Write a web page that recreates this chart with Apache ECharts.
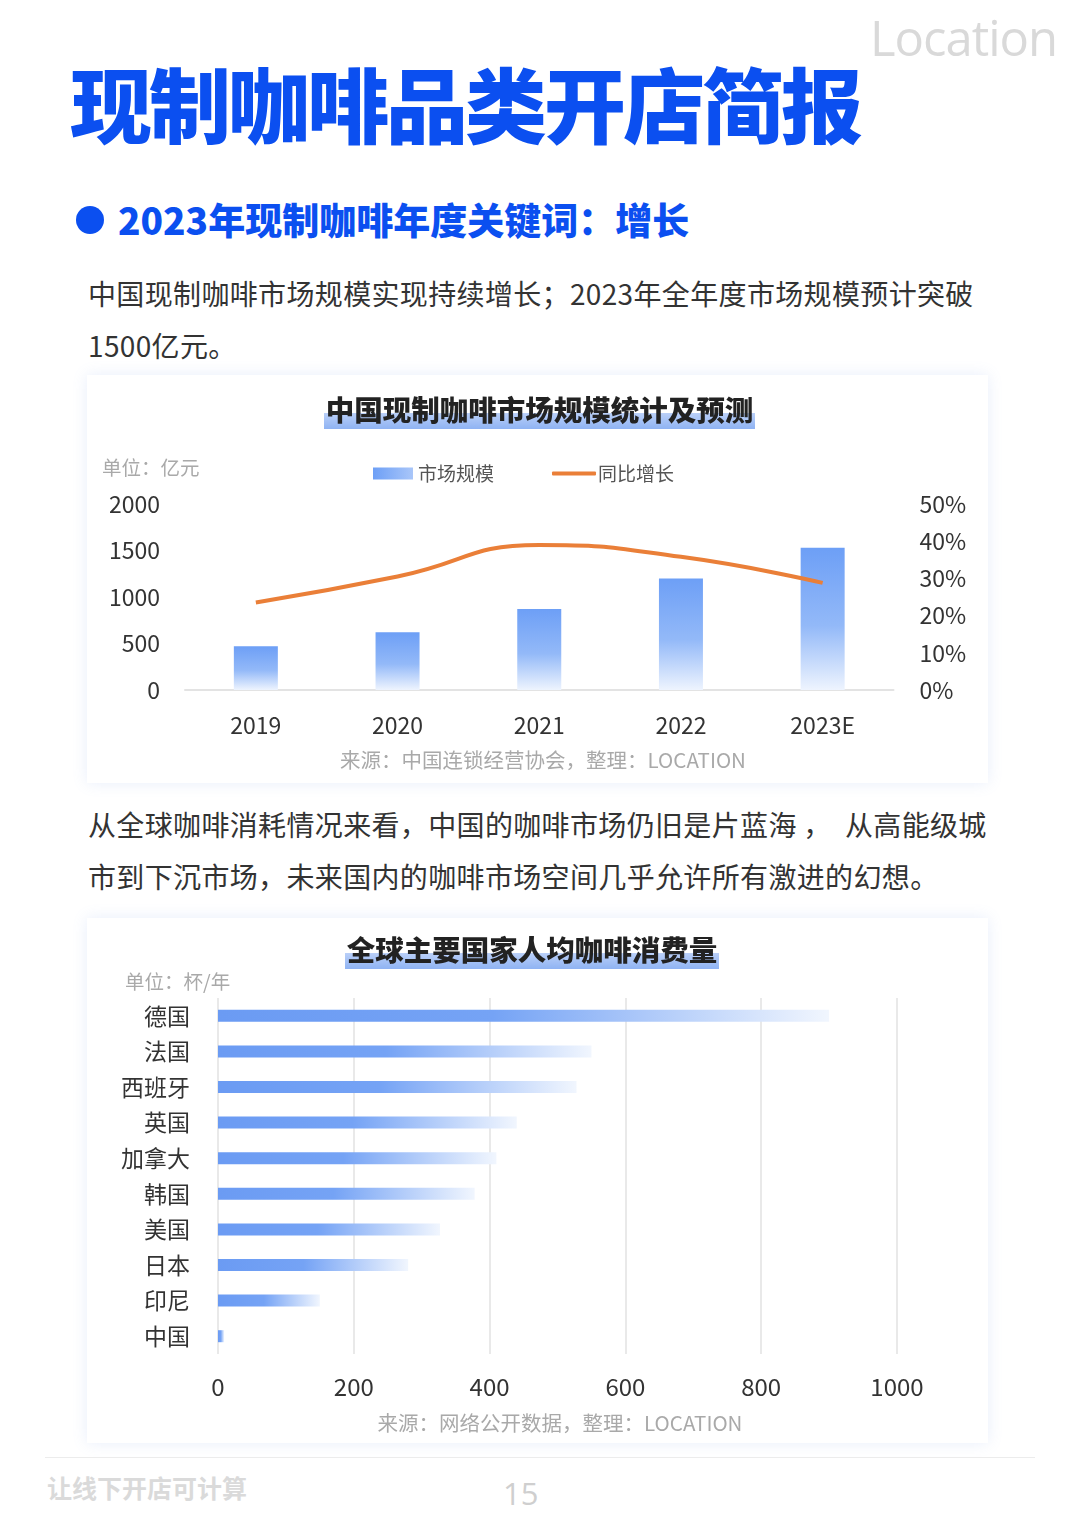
<!DOCTYPE html>
<html><head><meta charset="utf-8">
<script src="https://cdn.jsdelivr.net/npm/echarts@6/dist/echarts.min.js"></script>
<style>
html,body{margin:0;padding:0;background:#fff;}
body{width:1080px;height:1519px;position:relative;overflow:hidden;font-family:"Noto Sans CJK SC","Noto Sans",sans-serif;}
.abs{position:absolute;white-space:nowrap;}
.card{position:absolute;background:#fff;box-shadow:0 0 14px rgba(110,150,230,0.16);}
.ctitle{position:absolute;font-weight:900;font-size:28.5px;color:#222;line-height:36px;text-align:center;}
.ctitle span{background:linear-gradient(to bottom,rgba(255,255,255,0) 62%,#b9cff8 62%,#8fb3f3 100%);padding:0 2px;}
.grey{color:#a9a9a9;}
</style></head>
<body>
<div class="abs" style="left:870px;top:4px;font-size:49px;color:#d9d9d9;font-family:'Open Sans',sans-serif;letter-spacing:-1px;">Location</div>
<div class="abs" style="left:70px;top:52px;font-size:82px;font-weight:900;color:#0b4ff0;line-height:100px;letter-spacing:-3px;">现制咖啡品类开店简报</div>
<div class="abs" style="left:76px;top:206px;width:28px;height:28px;border-radius:50%;background:#0b4ff0;"></div>
<div class="abs" style="left:118px;top:195px;font-size:37px;font-weight:900;color:#0b4ff0;line-height:48px;">2023年现制咖啡年度关键词：增长</div>
<div class="abs" style="left:88px;top:267px;font-size:28px;color:#333;line-height:52px;letter-spacing:0.35px;">中国现制咖啡市场规模实现持续增长；2023年全年度市场规模预计突破<br>1500亿元。</div>

<div class="card" style="left:87px;top:375px;width:901px;height:408px;"></div>
<div id="c1" class="abs" style="left:87px;top:375px;width:901px;height:408px;"></div>
<div class="ctitle" style="left:87px;width:905px;top:391px;"><span>中国现制咖啡市场规模统计及预测</span></div>
<div class="abs grey" style="left:102px;top:452px;font-size:19.5px;">单位：亿元</div>
<div class="abs grey" style="left:87px;width:912px;text-align:center;top:744px;font-size:20.5px;">来源：中国连锁经营协会，整理：LOCATION</div>

<div class="abs" style="left:88px;top:798px;font-size:28px;color:#333;line-height:52px;letter-spacing:0.35px;">从全球咖啡消耗情况来看，中国的咖啡市场仍旧是片蓝海 ，&nbsp;&nbsp;从高能级城<br>市到下沉市场，未来国内的咖啡市场空间几乎允许所有激进的幻想。</div>

<div class="card" style="left:87px;top:918px;width:901px;height:525px;"></div>
<div id="c2" class="abs" style="left:87px;top:918px;width:901px;height:525px;"></div>
<div class="ctitle" style="left:87px;width:890px;top:931px;"><span>全球主要国家人均咖啡消费量</span></div>
<div class="abs grey" style="left:125px;top:966px;font-size:19.5px;">单位：杯/年</div>
<div class="abs grey" style="left:87px;width:946px;text-align:center;top:1407px;font-size:20.5px;">来源：网络公开数据，整理：LOCATION</div>

<div class="abs" style="left:45px;top:1457px;width:990px;height:1px;background:#ececec;"></div>
<div class="abs" style="left:47px;top:1469px;font-size:25px;font-weight:700;color:#dadada;">让线下开店可计算</div>
<div class="abs" style="left:503px;top:1472px;font-size:31px;color:#cfcfcf;font-family:'Open Sans',sans-serif;">15</div>

<script>
var years = ['2019','2020','2021','2022','2023E'];
var marketSize = [470, 620, 870, 1200, 1530];
var yoyGrowth = [23.5, 30.5, 39, 35.8, 28.8];
var leftTicks = [0, 500, 1000, 1500, 2000];
var rightTicks = ['0%','10%','20%','30%','40%','50%'];

var countries = ['德国','法国','西班牙','英国','加拿大','韩国','美国','日本','印尼','中国'];
var cupsPerYear = [900, 550, 528, 440, 410, 378, 327, 280, 150, 9];
var xTicks = [0, 200, 400, 600, 800, 1000];

var FONT = '"Noto Sans CJK SC","Noto Sans",sans-serif';
function plain(v){ return String(v); }

var c1 = echarts.init(document.getElementById('c1'));
var barGrad = new echarts.graphic.LinearGradient(0,0,0,1,[
  {offset:0,color:'#6d9ff6'},{offset:0.55,color:'#93b9f8'},{offset:1,color:'#eef4fe'}]);
var legendBarGrad = new echarts.graphic.LinearGradient(0,0,1,0,[
  {offset:0,color:'#6d9ff6'},{offset:1,color:'#a9c6f9'}]);
c1.setOption({
  animation:false,
  textStyle:{fontFamily:FONT},
  legend:[
    {left:281, top:84, itemWidth:40, itemHeight:12,
      textStyle:{fontSize:19,color:'#555',fontFamily:FONT},
      data:[{name:'市场规模',icon:'rect',itemStyle:{color:legendBarGrad}}]},
    {left:460, top:84, itemWidth:44, itemHeight:4,
      textStyle:{fontSize:19,color:'#555',fontFamily:FONT,padding:[0,0,0,-3]},
      data:[{name:'同比增长',icon:'roundRect',itemStyle:{color:'#ea7f38'}}]}
  ],
  grid:{left:98,right:94.5,top:129,bottom:93},
  xAxis:{type:'category',data:years,
    axisLine:{lineStyle:{color:'#e3e3e3',width:2}},axisTick:{show:false},
    axisLabel:{fontSize:23,color:'#333',margin:24,fontFamily:FONT}},
  yAxis:[
    {type:'value',min:leftTicks[0],max:leftTicks[leftTicks.length-1],interval:500,
      splitLine:{show:false},axisLine:{show:false},axisTick:{show:false},
      axisLabel:{fontSize:23,color:'#333',margin:25,fontFamily:FONT,formatter:plain}},
    {type:'value',min:0,max:50,interval:10,
      splitLine:{show:false},axisLine:{show:false},axisTick:{show:false},
      axisLabel:{fontSize:23,color:'#333',margin:26,fontFamily:FONT,
        formatter:function(v){return rightTicks[Math.round(v/10)];}}}
  ],
  series:[
    {name:'市场规模',type:'bar',data:marketSize,barWidth:44,
      itemStyle:{color:barGrad}},
    {name:'同比增长',type:'line',yAxisIndex:1,data:yoyGrowth,smooth:0.5,
      symbol:'none',lineStyle:{color:'#ea7f38',width:4},itemStyle:{color:'#ea7f38'}}
  ]
});

var c2 = echarts.init(document.getElementById('c2'));
var hGrad = new echarts.graphic.LinearGradient(0,0,1,0,[
  {offset:0,color:'#6b9bf3'},{offset:0.45,color:'#75a3f5'},{offset:1,color:'#f1f6fe'}]);
c2.setOption({
  animation:false,
  textStyle:{fontFamily:FONT},
  grid:{left:131,right:91,top:80,bottom:89},
  xAxis:{type:'value',min:xTicks[0],max:xTicks[xTicks.length-1],interval:200,
    axisLine:{show:false},axisTick:{show:false},
    splitLine:{lineStyle:{color:'#e2e2e2',width:1.5}},
    axisLabel:{fontSize:24,color:'#333',margin:21,fontFamily:FONT,formatter:plain}},
  yAxis:{type:'category',data:countries,inverse:true,
    axisLine:{show:false},axisTick:{show:false},
    axisLabel:{fontSize:23,color:'#333',margin:28,fontFamily:FONT}},
  series:[{type:'bar',data:cupsPerYear,barWidth:12,itemStyle:{color:hGrad}}]
});
</script>
</body></html>
